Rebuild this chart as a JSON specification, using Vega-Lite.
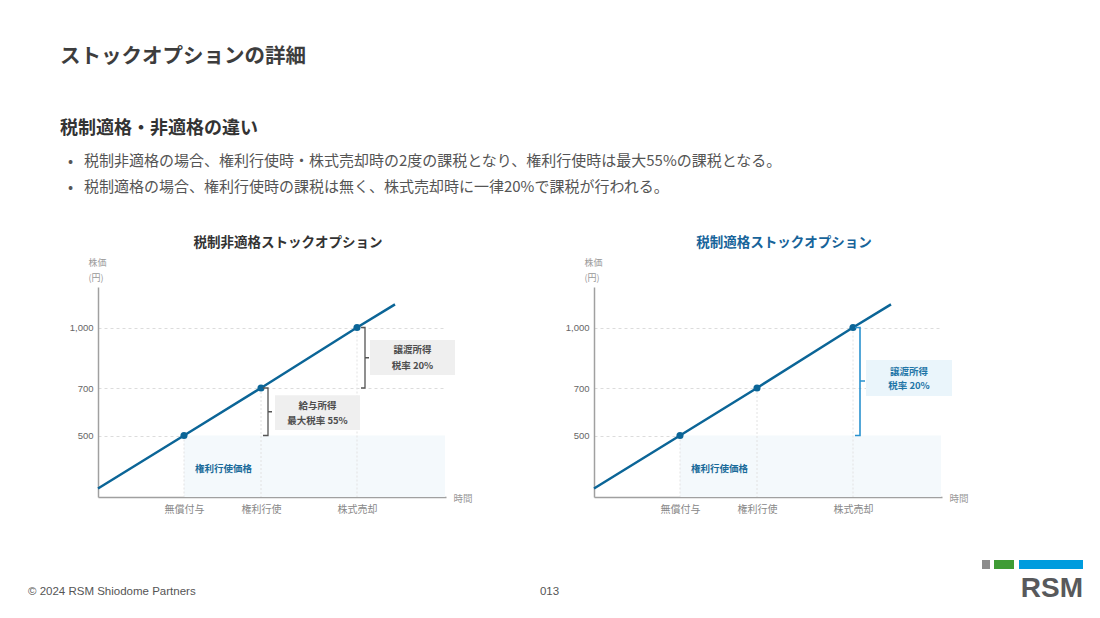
{
  "$schema": "https://vega.github.io/schema/vega-lite/v6.json",
  "background": "white",
  "padding": {"left": 28, "top": 47, "right": 5, "bottom": 5},
  "config": {
    "view": {"stroke": null},
    "font": "Noto Sans CJK JP",
    "title": {"font": "Noto Sans CJK JP", "subtitleFont": "Noto Sans CJK JP"}
  },
  "datasets": {
    "line": [{"t": 0, "p": 69}, {"t": 86, "p": 500}, {"t": 163, "p": 700}, {"t": 259, "p": 1000}, {"t": 297, "p": 1114}],
    "events": [{"t": 86, "p": 500, "label": "無償付与"}, {"t": 163, "p": 700, "label": "権利行使"}, {"t": 259, "p": 1000, "label": "株式売却"}],
    "exercise": [{"t": 86, "t2": 347, "p": 0, "p2": 500}],
    "exerciseLabel": [{"t": 125.5, "p": 228, "text": "権利行使価格"}],
    "bracketL": [
      {"g": "a", "i": 0, "t": 165, "p": 700}, {"g": "a", "i": 1, "t": 170, "p": 700}, {"g": "a", "i": 2, "t": 170, "p": 600}, {"g": "a", "i": 3, "t": 174, "p": 600}, {"g": "a", "i": 4, "t": 170, "p": 600}, {"g": "a", "i": 5, "t": 170, "p": 500}, {"g": "a", "i": 6, "t": 165, "p": 500},
      {"g": "b", "i": 0, "t": 263, "p": 1000}, {"g": "b", "i": 1, "t": 267, "p": 1000}, {"g": "b", "i": 2, "t": 267, "p": 850}, {"g": "b", "i": 3, "t": 271, "p": 850}, {"g": "b", "i": 4, "t": 267, "p": 850}, {"g": "b", "i": 5, "t": 267, "p": 700}, {"g": "b", "i": 6, "t": 263, "p": 700}
    ],
    "boxesL": [{"t": 177, "t2": 262, "p": 523, "p2": 670}, {"t": 272, "t2": 357, "p": 764, "p2": 938}],
    "boxTextL": [{"t": 219.5, "p": 625, "text": "給与所得"}, {"t": 219.5, "p": 561, "text": "最大税率 55%"}, {"t": 314.5, "p": 888, "text": "譲渡所得"}, {"t": 314.5, "p": 809, "text": "税率 20%"}],
    "bracketR": [
      {"g": "a", "i": 0, "t": 261, "p": 1000}, {"g": "a", "i": 1, "t": 266, "p": 1000}, {"g": "a", "i": 2, "t": 266, "p": 735}, {"g": "a", "i": 3, "t": 271, "p": 735}, {"g": "a", "i": 4, "t": 266, "p": 735}, {"g": "a", "i": 5, "t": 266, "p": 500}, {"g": "a", "i": 6, "t": 261, "p": 500}
    ],
    "boxesR": [{"t": 272, "t2": 358, "p": 666, "p2": 839}],
    "boxTextR": [{"t": 315, "p": 778, "text": "譲渡所得"}, {"t": 315, "p": 710, "text": "税率 20%"}],
    "footer": [{"text": "© 2024 RSM Shiodome Partners"}],
    "page": [{"text": "013"}],
    "logo": [{"text": "RSM"}]
  },
  "title": {
    "text": "ストックオプションの詳細",
    "subtitle": "税制適格・非適格の違い",
    "anchor": "start", "frame": "group", "dx": -38, "offset": 16,
    "fontSize": 20.5, "fontWeight": "bold", "color": "#3d3d3d",
    "subtitleFontSize": 18, "subtitleFontWeight": "bold", "subtitleColor": "#333333", "subtitlePadding": 52
  },
  "bounds": "flush",
  "spacing": 271,
  "vconcat": [
    {
      "bounds": "flush",
      "spacing": 148,
      "title": {
        "text": ["•\u2002\u00a0税制非適格の場合、権利行使時・株式売却時の2度の課税となり、権利行使時は最大55%の課税となる。", "•\u2002\u00a0税制適格の場合、権利行使時の課税は無く、株式売却時に一律20%で課税が行われる。"],
        "anchor": "start", "frame": "group", "dx": -30, "offset": 41,
        "fontSize": 15, "fontWeight": "normal", "color": "#555555", "lineHeight": 26
      },
      "hconcat": [
        {
          "width": 348, "height": 210,
          "title": {"text": "税制非適格ストックオプション", "anchor": "middle", "frame": "group", "dx": 16, "offset": 9, "fontSize": 13.5, "fontWeight": "bold", "color": "#333333"},
          "layer": [
            {
              "data": {"name": "exercise"},
              "mark": {"type": "rect", "fill": "#f4f9fc"},
              "encoding": {
                "x": {"field": "t", "type": "quantitative", "scale": {"domain": [0, 348], "nice": false, "zero": false},
                  "axis": {"values": [86, 163, 259], "labelExpr": "datum.value == 86 ? '無償付与' : datum.value == 163 ? '権利行使' : '株式売却'", "ticks": false, "grid": false, "domainColor": "#a0a0a0", "domainWidth": 1.5, "labelFontSize": 10, "labelColor": "#888888", "labelPadding": 7, "labelFont": "Noto Sans CJK JP", "title": "時間", "titleX": 355, "titleY": 1, "titleAlign": "left", "titleBaseline": "middle", "titleFontSize": 9.5, "titleFontWeight": "normal", "titleColor": "#999999", "titleFont": "Noto Sans CJK JP"}},
                "x2": {"field": "t2"},
                "y": {"field": "p", "type": "quantitative", "scale": {"domain": [0, 500, 700, 1000, 1200], "range": [210, 148.5, 101, 40.5, 0], "nice": false, "zero": false},
                  "axis": {"values": [500, 700, 1000], "labelExpr": "format(datum.value, ',')", "ticks": false, "grid": true, "gridColor": "#dcdcdc", "gridDash": [3, 3], "domainColor": "#a0a0a0", "domainWidth": 1.5, "labelFontSize": 9.5, "labelColor": "#666666", "labelPadding": 5, "labelFont": "Liberation Sans", "title": ["株価", "(円)"], "titleAngle": 0, "titleX": -10, "titleY": -25, "titleAlign": "left", "titleBaseline": "middle", "titleFontSize": 9, "titleFontWeight": "normal", "titleColor": "#999999", "titleLineHeight": 15, "titleFont": "Noto Sans CJK JP"}},
                "y2": {"field": "p2"}
              }
            },
            {
              "data": {"name": "events"},
              "mark": {"type": "rule", "color": "#e2e2e2", "strokeWidth": 1, "strokeDash": [2, 2]},
              "encoding": {"x": {"field": "t", "type": "quantitative"}, "y": {"field": "p", "type": "quantitative"}, "y2": {"datum": 0}}
            },
            {
              "data": {"name": "line"},
              "mark": {"type": "line", "color": "#0b6597", "strokeWidth": 2.5},
              "encoding": {"x": {"field": "t", "type": "quantitative"}, "y": {"field": "p", "type": "quantitative"}}
            },
            {
              "data": {"name": "events"},
              "mark": {"type": "point", "filled": true, "size": 50, "color": "#0b6597", "opacity": 1},
              "encoding": {"x": {"field": "t", "type": "quantitative"}, "y": {"field": "p", "type": "quantitative"}}
            },
            {
              "data": {"name": "boxesL"},
              "mark": {"type": "rect", "fill": "#efefef"},
              "encoding": {"x": {"field": "t", "type": "quantitative"}, "x2": {"field": "t2"}, "y": {"field": "p", "type": "quantitative"}, "y2": {"field": "p2"}}
            },
            {
              "data": {"name": "bracketL"},
              "mark": {"type": "line", "color": "#555555", "strokeWidth": 1.3},
              "encoding": {"x": {"field": "t", "type": "quantitative"}, "y": {"field": "p", "type": "quantitative"}, "detail": {"field": "g"}, "order": {"field": "i"}}
            },
            {
              "data": {"name": "boxTextL"},
              "mark": {"type": "text", "fontSize": 9.5, "fontWeight": "bold", "color": "#4d4d4d", "align": "center", "baseline": "middle"},
              "encoding": {"x": {"field": "t", "type": "quantitative"}, "y": {"field": "p", "type": "quantitative"}, "text": {"field": "text"}}
            },
            {
              "data": {"name": "exerciseLabel"},
              "mark": {"type": "text", "fontSize": 9.5, "fontWeight": "bold", "color": "#1a6b9a", "align": "center", "baseline": "middle"},
              "encoding": {"x": {"field": "t", "type": "quantitative"}, "y": {"field": "p", "type": "quantitative"}, "text": {"field": "text"}}
            }
          ]
        },
        {
          "width": 348, "height": 210,
          "title": {"text": "税制適格ストックオプション", "anchor": "middle", "frame": "group", "dx": 16, "offset": 9, "fontSize": 13.5, "fontWeight": "bold", "color": "#17649a"},
          "layer": [
            {
              "data": {"name": "exercise"},
              "mark": {"type": "rect", "fill": "#f4f9fc"},
              "encoding": {
                "x": {"field": "t", "type": "quantitative", "scale": {"domain": [0, 348], "nice": false, "zero": false},
                  "axis": {"values": [86, 163, 259], "labelExpr": "datum.value == 86 ? '無償付与' : datum.value == 163 ? '権利行使' : '株式売却'", "ticks": false, "grid": false, "domainColor": "#a0a0a0", "domainWidth": 1.5, "labelFontSize": 10, "labelColor": "#888888", "labelPadding": 7, "labelFont": "Noto Sans CJK JP", "title": "時間", "titleX": 355, "titleY": 1, "titleAlign": "left", "titleBaseline": "middle", "titleFontSize": 9.5, "titleFontWeight": "normal", "titleColor": "#999999", "titleFont": "Noto Sans CJK JP"}},
                "x2": {"field": "t2"},
                "y": {"field": "p", "type": "quantitative", "scale": {"domain": [0, 500, 700, 1000, 1200], "range": [210, 148.5, 101, 40.5, 0], "nice": false, "zero": false},
                  "axis": {"values": [500, 700, 1000], "labelExpr": "format(datum.value, ',')", "ticks": false, "grid": true, "gridColor": "#dcdcdc", "gridDash": [3, 3], "domainColor": "#a0a0a0", "domainWidth": 1.5, "labelFontSize": 9.5, "labelColor": "#666666", "labelPadding": 5, "labelFont": "Liberation Sans", "title": ["株価", "(円)"], "titleAngle": 0, "titleX": -10, "titleY": -25, "titleAlign": "left", "titleBaseline": "middle", "titleFontSize": 9, "titleFontWeight": "normal", "titleColor": "#999999", "titleLineHeight": 15, "titleFont": "Noto Sans CJK JP"}},
                "y2": {"field": "p2"}
              }
            },
            {
              "data": {"name": "events"},
              "mark": {"type": "rule", "color": "#e2e2e2", "strokeWidth": 1, "strokeDash": [2, 2]},
              "encoding": {"x": {"field": "t", "type": "quantitative"}, "y": {"field": "p", "type": "quantitative"}, "y2": {"datum": 0}}
            },
            {
              "data": {"name": "line"},
              "mark": {"type": "line", "color": "#0b6597", "strokeWidth": 2.5},
              "encoding": {"x": {"field": "t", "type": "quantitative"}, "y": {"field": "p", "type": "quantitative"}}
            },
            {
              "data": {"name": "events"},
              "mark": {"type": "point", "filled": true, "size": 50, "color": "#0b6597", "opacity": 1},
              "encoding": {"x": {"field": "t", "type": "quantitative"}, "y": {"field": "p", "type": "quantitative"}}
            },
            {
              "data": {"name": "boxesR"},
              "mark": {"type": "rect", "fill": "#eaf5fb"},
              "encoding": {"x": {"field": "t", "type": "quantitative"}, "x2": {"field": "t2"}, "y": {"field": "p", "type": "quantitative"}, "y2": {"field": "p2"}}
            },
            {
              "data": {"name": "bracketR"},
              "mark": {"type": "line", "color": "#2a92cf", "strokeWidth": 1.6},
              "encoding": {"x": {"field": "t", "type": "quantitative"}, "y": {"field": "p", "type": "quantitative"}, "detail": {"field": "g"}, "order": {"field": "i"}}
            },
            {
              "data": {"name": "boxTextR"},
              "mark": {"type": "text", "fontSize": 9.5, "fontWeight": "bold", "color": "#1f76a8", "align": "center", "baseline": "middle"},
              "encoding": {"x": {"field": "t", "type": "quantitative"}, "y": {"field": "p", "type": "quantitative"}, "text": {"field": "text"}}
            },
            {
              "data": {"name": "exerciseLabel"},
              "mark": {"type": "text", "fontSize": 9.5, "fontWeight": "bold", "color": "#1a6b9a", "align": "center", "baseline": "middle"},
              "encoding": {"x": {"field": "t", "type": "quantitative"}, "y": {"field": "p", "type": "quantitative"}, "text": {"field": "text"}}
            }
          ]
        }
      ]
    },
    {
      "width": 985, "height": 45,
      "layer": [
        {
          "data": {"name": "footer"},
          "mark": {"type": "text", "align": "left", "baseline": "middle", "fontSize": 11.5, "color": "#555555", "font": "Liberation Sans"},
          "encoding": {
            "x": {"datum": -70, "type": "quantitative", "scale": {"domain": [0, 985], "nice": false, "zero": false}, "axis": null},
            "y": {"datum": 34, "type": "quantitative", "scale": {"domain": [45, 0], "nice": false, "zero": false}, "axis": null},
            "text": {"field": "text"}
          }
        },
        {
          "data": {"name": "page"},
          "mark": {"type": "text", "align": "center", "baseline": "middle", "fontSize": 11.5, "color": "#555555", "font": "Liberation Sans"},
          "encoding": {"x": {"datum": 451.5, "type": "quantitative"}, "y": {"datum": 34, "type": "quantitative"}, "text": {"field": "text"}}
        },
        {
          "data": {"values": [{}]},
          "mark": {"type": "rect", "fill": "#8c8c8c"},
          "encoding": {"x": {"datum": 884, "type": "quantitative"}, "x2": {"datum": 892}, "y": {"datum": 2, "type": "quantitative"}, "y2": {"datum": 11}}
        },
        {
          "data": {"values": [{}]},
          "mark": {"type": "rect", "fill": "#3f9c35"},
          "encoding": {"x": {"datum": 896, "type": "quantitative"}, "x2": {"datum": 916}, "y": {"datum": 2, "type": "quantitative"}, "y2": {"datum": 11}}
        },
        {
          "data": {"values": [{}]},
          "mark": {"type": "rect", "fill": "#009cde"},
          "encoding": {"x": {"datum": 921, "type": "quantitative"}, "x2": {"datum": 985}, "y": {"datum": 2, "type": "quantitative"}, "y2": {"datum": 11}}
        },
        {
          "data": {"name": "logo"},
          "mark": {"type": "text", "align": "right", "baseline": "alphabetic", "fontSize": 28, "fontWeight": "bold", "color": "#58595b", "font": "Liberation Sans"},
          "encoding": {"x": {"datum": 985, "type": "quantitative"}, "y": {"datum": 39, "type": "quantitative"}, "text": {"field": "text"}}
        }
      ]
    }
  ]
}
